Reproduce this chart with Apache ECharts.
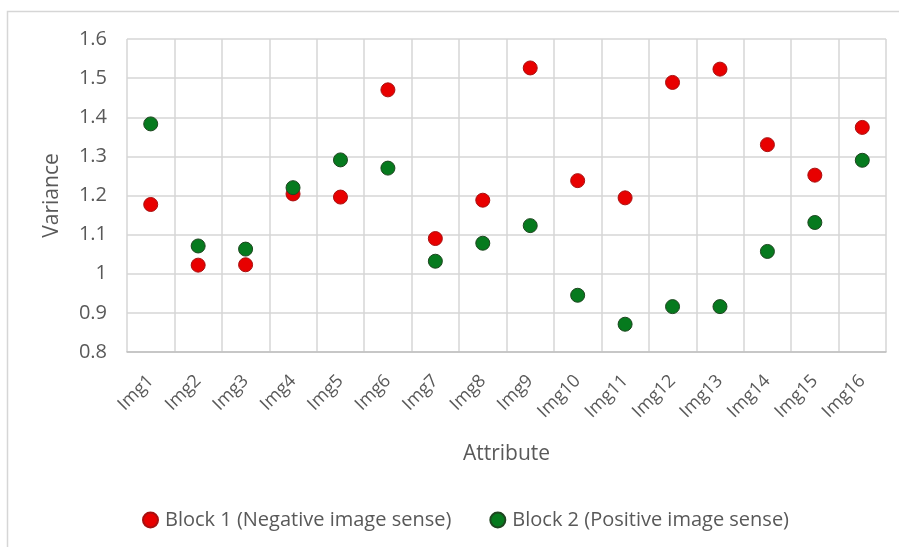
<!DOCTYPE html>
<html>
<head>
<meta charset="utf-8">
<script src="https://cdn.jsdelivr.net/npm/echarts@6/dist/echarts.min.js"></script>
<style>
  html, body { margin: 0; padding: 0; background: #fff; }
  #chart { width: 899px; height: 547px; }
</style>
</head>
<body>
<div id="chart"></div>
<script>
// Image attributes on the x axis
const categories = ['Img1','Img2','Img3','Img4','Img5','Img6','Img7','Img8',
                    'Img9','Img10','Img11','Img12','Img13','Img14','Img15','Img16'];

// Variance per image, block 1 (negative image sense)
const block1 = [1.177, 1.022, 1.023, 1.204, 1.196, 1.470, 1.090, 1.188,
                1.526, 1.238, 1.194, 1.489, 1.523, 1.330, 1.252, 1.374];

// Variance per image, block 2 (positive image sense)
const block2 = [1.383, 1.071, 1.063, 1.220, 1.291, 1.270, 1.032, 1.078,
                1.123, 0.945, 0.871, 0.916, 0.916, 1.057, 1.131, 1.290];

const seriesNames = ['Block 1 (Negative image sense)', 'Block 2 (Positive image sense)'];

const FONT = '"Open Sans"';
const TEXT = '#595959';
const GRID = '#d6d6d6';

const chart = echarts.init(document.getElementById('chart'), null, { renderer: 'canvas' });

chart.setOption({
  animation: false,
  backgroundColor: '#ffffff',
  textStyle: { fontFamily: FONT, color: TEXT },
  graphic: [{
    type: 'rect',
    shape: { x: 7.5, y: 11.5, width: 1000, height: 1000 },
    style: { fill: 'none', stroke: GRID, lineWidth: 1.5 },
    silent: true
  }],
  grid: { left: 127, right: 13, top: 39, bottom: 195 },
  legend: {
    left: 137,
    top: 505,
    itemWidth: 15,
    itemHeight: 15,
    itemGap: 38,
    icon: 'circle',
    textStyle: { fontFamily: FONT, fontSize: 20, color: TEXT, padding: [0, 0, 0, 2] },
    data: seriesNames
  },
  xAxis: {
    type: 'category',
    data: categories,
    boundaryGap: true,
    name: 'Attribute',
    nameLocation: 'middle',
    nameGap: 92,
    nameTextStyle: { fontFamily: FONT, fontSize: 21, color: TEXT },
    axisLine: { show: true, lineStyle: { color: '#bfbfbf', width: 1.5 } },
    axisTick: { show: false },
    axisLabel: {
      rotate: 45, margin: 26, interval: 0,
      fontFamily: FONT, fontSize: 18, color: TEXT
    },
    splitLine: { show: true, interval: 0, lineStyle: { color: GRID, width: 1.5 } }
  },
  yAxis: {
    type: 'value',
    min: 0.8,
    max: 1.6,
    interval: 0.1,
    name: 'Variance',
    nameLocation: 'middle',
    nameGap: 64,
    nameTextStyle: { fontFamily: FONT, fontSize: 21, color: TEXT },
    axisLine: { show: false },
    axisTick: { show: false },
    axisLabel: {
      margin: 20, fontFamily: FONT, fontSize: 20, color: TEXT,
      formatter: v => String(Math.round(v * 10) / 10)
    },
    splitLine: { show: true, lineStyle: { color: GRID, width: 1.5 } }
  },
  series: [
    {
      name: seriesNames[0],
      type: 'scatter',
      symbol: 'circle',
      symbolSize: 14,
      itemStyle: { color: '#e80000', borderColor: '#a81010', borderWidth: 1, opacity: 1 },
      data: block1,
      z: 3
    },
    {
      name: seriesNames[1],
      type: 'scatter',
      symbol: 'circle',
      symbolSize: 14,
      itemStyle: { color: '#067a1e', borderColor: '#1e4620', borderWidth: 1, opacity: 1 },
      data: block2,
      z: 4
    }
  ]
});
</script>
</body>
</html>
